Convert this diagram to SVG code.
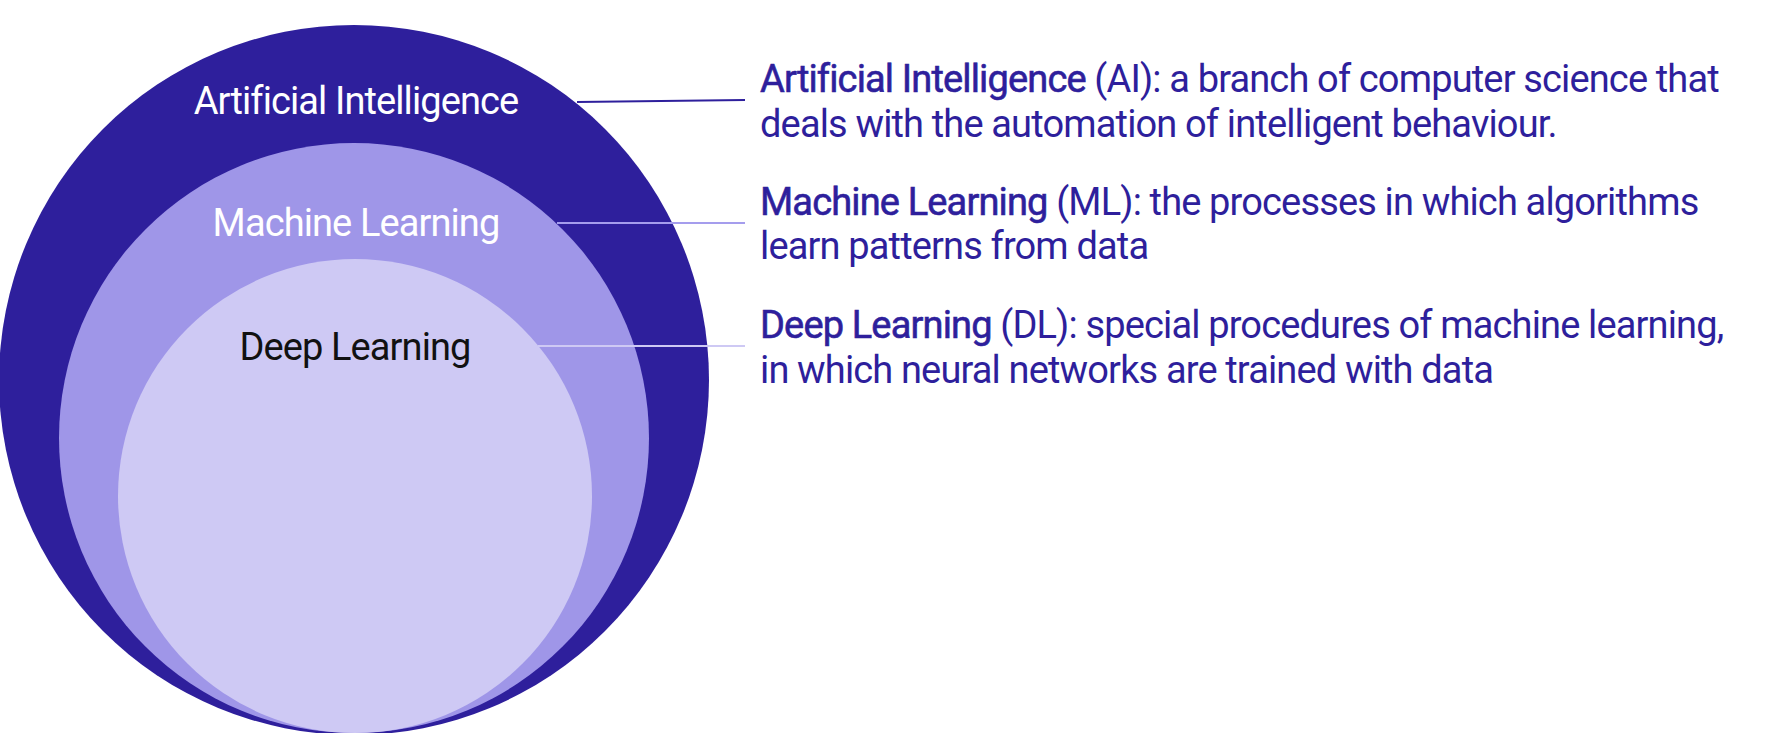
<svg xmlns="http://www.w3.org/2000/svg" width="1773" height="733" viewBox="0 0 1773 733">
<style>
.lbl{font-family:Roboto,"Liberation Sans",sans-serif;font-size:38px;text-anchor:middle;letter-spacing:-0.9px}
.desc{font-family:Roboto,"Liberation Sans",sans-serif;font-size:38px;fill:#2e1f9c;letter-spacing:-0.85px}
.term{stroke:#2e1f9c;stroke-width:0.6px}
</style>
<rect width="1773" height="733" fill="#ffffff"/>
<g id="ai">
<circle cx="354" cy="380" r="355" fill="#2e1f9c"/>
<text class="lbl" x="356" y="114" fill="#ffffff">Artificial Intelligence</text>
</g>
<g id="ml">
<circle cx="354" cy="438" r="295" fill="#9f96e8"/>
<text class="lbl" x="356" y="236" fill="#ffffff">Machine Learning</text>
</g>
<g id="dl">
<circle cx="355" cy="496" r="237" fill="#cec9f4"/>
<text class="lbl" x="355" y="360" fill="#111111">Deep Learning</text>
</g>
<g id="connectors" stroke-width="2" fill="none">
<line x1="577" y1="102" x2="745" y2="100" stroke="#2e1f9c"/>
<line x1="557" y1="223" x2="745" y2="223" stroke="#a59ded"/>
<line x1="538" y1="346" x2="745" y2="346" stroke="#cec9f4"/>
</g>
<g id="desc-ai">
<text class="desc" x="760" y="92"><tspan class="term">Artificial Intelligence</tspan> (AI): a branch of computer science that</text>
<text class="desc" x="760" y="137">deals with the automation of intelligent behaviour.</text>
</g>
<g id="desc-ml">
<text class="desc" x="760" y="215"><tspan class="term">Machine Learning</tspan> (ML): the processes in which algorithms</text>
<text class="desc" x="760" y="259">learn patterns from data</text>
</g>
<g id="desc-dl">
<text class="desc" x="760" y="338"><tspan class="term">Deep Learning</tspan> (DL): special procedures of machine learning,</text>
<text class="desc" x="760" y="383">in which neural networks are trained with data</text>
</g>
</svg>
